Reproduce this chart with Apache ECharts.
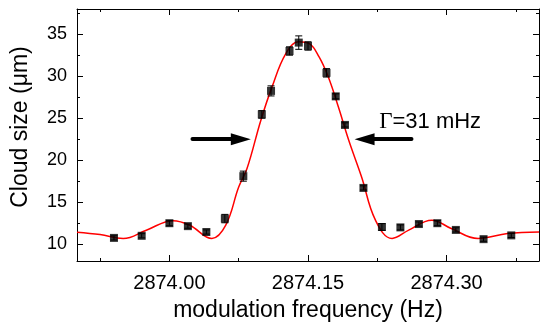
<!DOCTYPE html>
<html><head><meta charset="utf-8">
<script src="https://cdn.jsdelivr.net/npm/echarts@6/dist/echarts.min.js"></script>
<style>html,body{margin:0;padding:0;background:#fff}#c{width:540px;height:322px}</style>
</head><body><div id="c"></div>
<script>
// measured points
const freq = [2873.94, 2873.97, 2874.00, 2874.02, 2874.04, 2874.06, 2874.08, 2874.10, 2874.11, 2874.13, 2874.14, 2874.15, 2874.17, 2874.18, 2874.19, 2874.21, 2874.23, 2874.25, 2874.27, 2874.29, 2874.31, 2874.34, 2874.37];
const cloudSize = [10.75, 11.0, 12.5, 12.15, 11.45, 13.05, 18.1, 25.45, 28.25, 33.0, 34.0, 33.6, 30.4, 27.6, 24.2, 16.7, 12.05, 12.0, 12.4, 12.5, 11.7, 10.6, 11.05];
const sizeErr = [0.25, 0.25, 0.3, 0.25, 0.25, 0.5, 0.6, 0.45, 0.6, 0.5, 0.8, 0.5, 0.5, 0.3, 0.25, 0.25, 0.4, 0.3, 0.25, 0.3, 0.25, 0.25, 0.25];
// fitted curve
const fitFreq = [2873.900, 2873.925, 2873.950, 2873.975, 2874.004, 2874.022, 2874.046, 2874.061, 2874.075, 2874.084, 2874.099, 2874.111, 2874.126, 2874.140, 2874.151, 2874.162, 2874.172, 2874.183, 2874.194, 2874.208, 2874.223, 2874.241, 2874.259, 2874.284, 2874.305, 2874.334, 2874.366, 2874.400];
const fitSize = [11.43, 11.15, 10.68, 11.67, 12.8, 12.26, 10.68, 12.26, 16.8, 19.0, 24.76, 28.7, 32.7, 34.1, 33.9, 32.3, 29.9, 26.3, 22.4, 18.0, 12.86, 10.68, 11.67, 12.86, 11.87, 10.68, 11.27, 11.46];
// ticks
const xMajorTicks = [2874.00, 2874.15, 2874.30];
const xMinorTicks = [2873.925, 2874.075, 2874.225, 2874.375];
const yMajorTicks = [10, 15, 20, 25, 30, 35];
const yMinorTicks = [12.5, 17.5, 22.5, 27.5, 32.5, 37.5];
// annotation
const annotText = '=31 mHz';
const annotSymbol = 'Γ';
const arrowLeft = [[2874.025, 22.5], [2874.0773, 22.5]];
const arrowRight = [[2874.262, 22.5], [2874.2112, 22.5]];
const annotPos = [2874.227, 24.6];

const X_MIN = 2873.90, X_MAX = 2874.40, Y_MIN = 8, Y_MAX = 38;
const FONT = 'Liberation Sans, Arial, sans-serif';

function xAx(pos, ticks, len, showLine, labels, extra) {
  return Object.assign({
    type: 'value', position: pos, min: X_MIN, max: X_MAX,
    axisLine: {show: showLine, onZero: false, lineStyle: {color: '#000', width: 1}},
    axisTick: {show: true, inside: true, length: len, customValues: ticks, lineStyle: {color: '#000', width: 1}},
    axisLabel: labels ? {show: true, customValues: ticks, formatter: v => v.toFixed(2), color: '#000', fontSize: 20, fontFamily: FONT, margin: 12} : {show: false},
    splitLine: {show: false}
  }, extra || {});
}
function yAx(pos, ticks, len, showLine, labels, extra) {
  return Object.assign({
    type: 'value', position: pos, min: Y_MIN, max: Y_MAX,
    axisLine: {show: showLine, onZero: false, lineStyle: {color: '#000', width: 1}},
    axisTick: {show: true, inside: true, length: len, customValues: ticks, lineStyle: {color: '#000', width: 1}},
    axisLabel: labels ? {show: true, customValues: ticks, formatter: v => String(v), color: '#000', fontSize: 18, fontFamily: FONT, margin: 10} : {show: false},
    splitLine: {show: false}
  }, extra || {});
}

const chart = echarts.init(document.getElementById('c'), null, {renderer: 'canvas'});
const option = {
  animation: false,
  backgroundColor: '#fff',
  grid: {left: 77, right: 1, top: 9, bottom: 61, outerBoundsMode: 'none', containLabel: false},
  xAxis: [
    xAx('bottom', xMajorTicks, 6, true, true, {name: 'modulation frequency (Hz)', nameLocation: 'middle', nameGap: 38, nameTextStyle: {color: '#000', fontSize: 23, fontFamily: FONT}}),
    xAx('bottom', xMinorTicks, 3, false, false),
    xAx('top', xMajorTicks, 6, true, false),
    xAx('top', xMinorTicks, 3, false, false)
  ],
  yAxis: [
    yAx('left', yMajorTicks, 6, true, true, {name: 'Cloud size (μm)', nameLocation: 'middle', nameGap: 45, nameTextStyle: {color: '#000', fontSize: 23, fontFamily: FONT, padding: [0, 0, 0, 16]}}),
    yAx('left', yMinorTicks, 3, false, false),
    yAx('right', yMajorTicks, 6, true, false),
    yAx('right', yMinorTicks, 3, false, false)
  ],
  series: [
    {
      type: 'line', xAxisIndex: 0, yAxisIndex: 0,
      data: fitFreq.map((f, i) => [f, fitSize[i]]),
      smooth: 0.4, showSymbol: false, symbol: 'none',
      lineStyle: {color: '#ff0000', width: 1.5}, z: 2,
      markLine: {
        silent: true, animation: false, symbol: ['none', 'triangle'], symbolSize: [12, 20],
        label: {show: false},
        lineStyle: {color: '#000', width: 4, type: 'solid', cap: 'round'},
        itemStyle: {color: '#000'},
        data: [
          [{coord: arrowLeft[0]}, {coord: arrowLeft[1]}],
          [{coord: arrowRight[0]}, {coord: arrowRight[1]}]
        ]
      }
    },
    {
      type: 'custom', xAxisIndex: 0, yAxisIndex: 0, z: 3,
      data: freq.map((f, i) => [f, cloudSize[i], sizeErr[i]]),
      renderItem: function (params, api) {
        const x = api.value(0), y = api.value(1), e = api.value(2);
        const t = api.coord([x, y + e]), b = api.coord([x, y - e]);
        const w = 3.5;
        const st = {stroke: '#000', lineWidth: 1};
        return {type: 'group', children: [
          {type: 'line', shape: {x1: t[0], y1: t[1], x2: b[0], y2: b[1]}, style: st},
          {type: 'line', shape: {x1: t[0] - w, y1: t[1], x2: t[0] + w, y2: t[1]}, style: st},
          {type: 'line', shape: {x1: b[0] - w, y1: b[1], x2: b[0] + w, y2: b[1]}, style: st}
        ]};
      }
    },
    {
      type: 'scatter', xAxisIndex: 0, yAxisIndex: 0, z: 4,
      data: freq.map((f, i) => [f, cloudSize[i]]),
      symbol: 'rect', symbolSize: 8, itemStyle: {color: '#000'}
    }
  ]
};
chart.setOption(option);
const p = chart.convertToPixel({xAxisIndex: 0, yAxisIndex: 0}, annotPos);
chart.setOption({
  graphic: [{
    type: 'text', x: p[0], y: p[1],
    style: {
      text: '{g|' + annotSymbol + '}' + annotText,
      fill: '#000', fontSize: 22, fontFamily: FONT, verticalAlign: 'middle', align: 'left',
      rich: {g: {fontFamily: 'Liberation Serif, DejaVu Serif, serif', fontSize: 23, fill: '#000'}}
    }
  }]
});
</script></body></html>
